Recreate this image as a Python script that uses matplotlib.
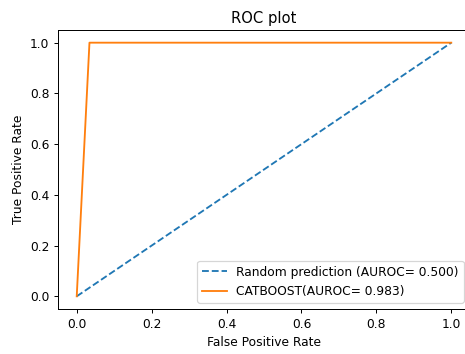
import matplotlib
matplotlib.use("Agg")
import matplotlib.pyplot as plt

# ROC points
random_fpr = [0.0, 1.0]
random_tpr = [0.0, 1.0]
cat_fpr = [0.0, 0.034, 1.0]
cat_tpr = [0.0, 1.0, 1.0]
random_auc = 0.500
cat_auc = 0.983

# the reference looks like a default 72 dpi figure scaled up ~1.23x
DPI = 88.6
W, H = 465, 354

fig = plt.figure(figsize=(W / DPI, H / DPI), dpi=DPI)
ax = fig.add_axes([58 / W, 45 / H, 412 / W, 279 / H])

ax.plot(random_fpr, random_tpr, linestyle='--', label='Random prediction (AUROC= %0.3f)' % random_auc)
ax.plot(cat_fpr, cat_tpr, label='CATBOOST(AUROC= %0.3f)' % cat_auc)

ax.set_title('ROC plot')
ax.set_xlabel('False Positive Rate')
ax.set_ylabel('True Positive Rate')
ax.legend(loc='lower right')

fig.savefig('out.png', dpi=DPI)
